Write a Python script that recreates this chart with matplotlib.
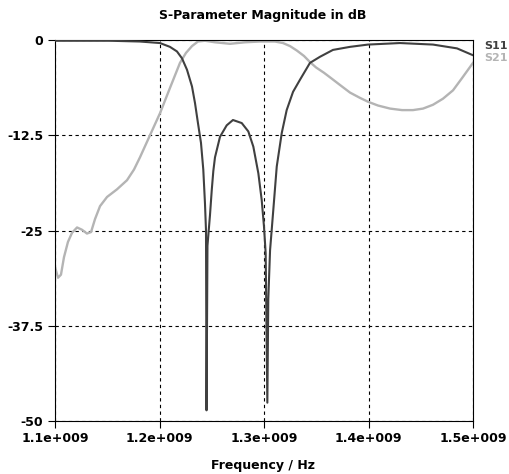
"""S-parameter magnitude plot (S11 / S21) in the style of an old EM solver."""

import matplotlib as mpl

mpl.use("Agg")
import matplotlib.pyplot as plt
import numpy as np
from matplotlib.ticker import FixedLocator

# --- data (frequency in GHz, magnitude in dB) ---
s11_freq_ghz = [
    1.1000, 1.1239, 1.1526, 1.1813, 1.2005, 1.2100, 1.2167, 1.2215, 1.2263,
    1.2311, 1.2340, 1.2368, 1.2397, 1.2419, 1.2435, 1.2445, 1.2450, 1.2459,
    1.2483, 1.2500, 1.2515, 1.2531, 1.2579, 1.2643, 1.2703, 1.2787,
    1.2850, 1.2898, 1.2946, 1.2978, 1.3000, 1.3016, 1.3032, 1.3041, 1.3058,
    1.3089, 1.3122, 1.3170, 1.3217, 1.3278, 1.3345, 1.3440, 1.3536, 1.3660,
    1.3823, 1.3995, 1.4301, 1.4617, 1.4847, 1.5000,
]
s11_db = [
    -0.1, -0.1, -0.1, -0.2, -0.4, -0.9, -1.5, -2.4, -3.9,
    -6.1, -8.3, -10.9, -13.5, -17.0, -21.4, -25.0, -48.6, -27.0,
    -23.0, -19.7, -17.2, -15.4, -12.7, -11.2, -10.5, -10.9,
    -12.0, -14.0, -17.5, -21.0, -24.5, -28.0, -47.6, -34.0, -27.6,
    -22.3, -16.6, -12.2, -9.2, -6.8, -5.2, -3.0, -2.2, -1.3,
    -0.9, -0.6, -0.4, -0.6, -1.1, -2.0,
]

s21_freq_ghz = [
    1.1000, 1.1029, 1.1057, 1.1086, 1.1124, 1.1163, 1.1211, 1.1258, 1.1306,
    1.1345, 1.1383, 1.1431, 1.1498, 1.1593, 1.1689, 1.1756, 1.1813, 1.1909,
    1.2005, 1.2100, 1.2196, 1.2253, 1.2311, 1.2368, 1.2435, 1.2531, 1.2675,
    1.2818, 1.2962, 1.3105, 1.3182, 1.3249, 1.3316, 1.3383, 1.3440, 1.3498,
    1.3574, 1.3651, 1.3727, 1.3823, 1.3919, 1.3995, 1.4091, 1.4206, 1.4321,
    1.4426, 1.4522, 1.4617, 1.4713, 1.4809, 1.4895, 1.5000,
]
s21_db = [
    -29.8, -31.2, -30.8, -28.5, -26.5, -25.3, -24.6, -24.9, -25.4,
    -25.2, -23.5, -21.8, -20.6, -19.6, -18.4, -17.0, -15.4, -12.5,
    -9.6, -6.3, -3.0, -1.7, -0.8, -0.2, -0.1, -0.3, -0.5,
    -0.3, -0.2, -0.2, -0.4, -0.8, -1.4, -2.1, -2.9, -3.6,
    -4.3, -5.1, -5.9, -6.9, -7.6, -8.1, -8.6, -9.0, -9.2,
    -9.2, -9.0, -8.5, -7.7, -6.6, -5.0, -3.0,
]

x_ticks_ghz = [1.1, 1.2, 1.3, 1.4, 1.5]
x_tick_labels = ["1.1e+009", "1.2e+009", "1.3e+009", "1.4e+009", "1.5e+009"]
y_ticks = [0, -12.5, -25, -37.5, -50]
y_tick_labels = ["0", "-12.5", "-25", "-37.5", "-50"]
series_names = ["S11", "S21"]

S11_COLOR = "#404040"
S21_COLOR = "#b4b4b4"

plt.rcParams.update(
    {
        "font.family": "DejaVu Sans",
        "font.weight": "bold",
        "font.size": 9,
    }
)

W, H, DPI = 510, 474, 100
fig = plt.figure(figsize=(W / DPI, H / DPI), dpi=DPI, facecolor="white")
ax = fig.add_axes([55 / W, (H - 421) / H, (473 - 55) / W, (421 - 40) / H])

ax.plot(np.array(s11_freq_ghz) * 1e9, s11_db, color=S11_COLOR, lw=1.5, zorder=3)
ax.plot(np.array(s21_freq_ghz) * 1e9, s21_db, color=S21_COLOR, lw=1.7, zorder=2)

ax.set_xlim(1.1e9, 1.5e9)
ax.set_ylim(-50, 0)

ax.xaxis.set_major_locator(FixedLocator([v * 1e9 for v in x_ticks_ghz]))
ax.set_xticklabels(x_tick_labels, fontweight="bold")
ax.yaxis.set_major_locator(FixedLocator(y_ticks))
ax.set_yticklabels(y_tick_labels, fontweight="bold")
ax.tick_params(axis="both", direction="out", length=5, width=0.8, color="black",
               labelcolor="black")
ax.tick_params(axis="y", pad=3.6)
ax.tick_params(axis="x", pad=3)

ax.grid(True, color="black", linestyle=(0, (3, 3)), linewidth=0.8)
ax.set_axisbelow(True)
for spine in ax.spines.values():
    spine.set_color("black")
    spine.set_linewidth(0.8)

fig.text(263 / W, 1 - 16 / H, "S-Parameter Magnitude in dB", fontsize=9,
         fontweight="bold", ha="center", va="center")
fig.text(263 / W, 1 - 465 / H, "Frequency / Hz", fontsize=9,
         fontweight="bold", ha="center", va="center")

# series names on the right, coloured like the curves
for i, (name, col) in enumerate(zip(series_names, [S11_COLOR, S21_COLOR])):
    fig.text(484 / W, 1 - (46 + 12 * i) / H, name, color=col, fontsize=8,
             fontweight="bold", ha="left", va="center")

fig.savefig("out.png", dpi=DPI, facecolor="white")
